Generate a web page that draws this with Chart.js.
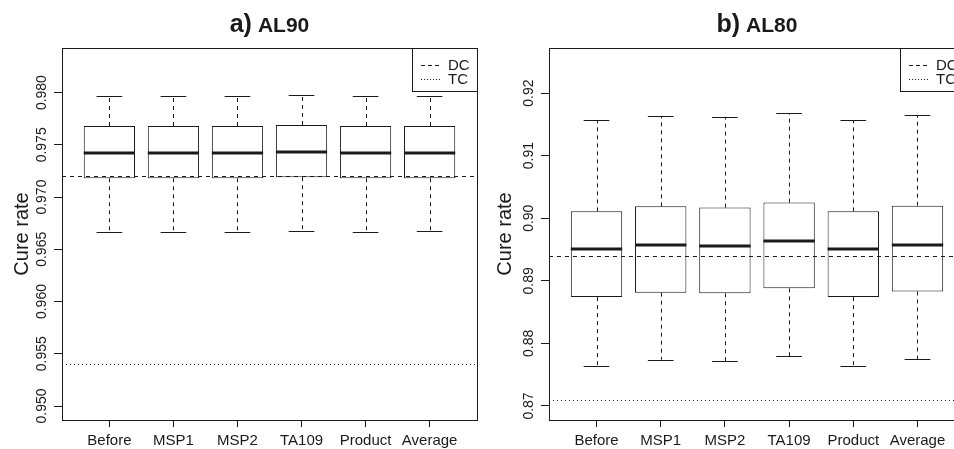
<!DOCTYPE html>
<html>
<head>
<meta charset="utf-8">
<title>Cure rate</title>
<script src="https://cdn.jsdelivr.net/npm/chart.js@4.4.0/dist/chart.umd.min.js"></script>
<style>
  body { margin: 0; background: #fff; overflow: hidden; width: 954px; height: 449px; position: relative; }
  .panel { position: absolute; top: 0; }
  #panelA { left: 0; }
  #panelB { left: 480px; }
</style>
</head>
<body>
<div class="panel" id="panelA"><canvas id="chartA" width="480" height="449"></canvas></div>
<div class="panel" id="panelB"><canvas id="chartB" width="500" height="449"></canvas></div>
<script>
'use strict'

const categories = ['Before', 'MSP1', 'MSP2', 'TA109', 'Product', 'Average'];

// AL90: whisker ends, quartiles and medians
const al90Low  = [0.9667, 0.9667, 0.9667, 0.9668, 0.9667, 0.9668];
const al90Q1   = [0.9718, 0.9718, 0.9718, 0.9719, 0.9718, 0.9718];
const al90Med  = [0.9742, 0.9742, 0.9742, 0.9743, 0.9742, 0.9742];
const al90Q3   = [0.9768, 0.9768, 0.9768, 0.9769, 0.9768, 0.9768];
const al90High = [0.9797, 0.9797, 0.9797, 0.9798, 0.9797, 0.9797];
const al90Ref  = [0.972, 0.954];   // DC, TC
const al90Ticks = [0.950, 0.955, 0.960, 0.965, 0.970, 0.975, 0.980];

// AL80
const al80Low  = [0.8764, 0.8774, 0.8772, 0.8780, 0.8764, 0.8775];
const al80Q1   = [0.8874, 0.8881, 0.8880, 0.8888, 0.8874, 0.8883];
const al80Med  = [0.8951, 0.8957, 0.8956, 0.8963, 0.8951, 0.8958];
const al80Q3   = [0.9011, 0.9019, 0.9017, 0.9025, 0.9011, 0.9020];
const al80High = [0.9157, 0.9163, 0.9162, 0.9168, 0.9157, 0.9165];
const al80Ref  = [0.894, 0.871];
const al80Ticks = [0.87, 0.88, 0.89, 0.90, 0.91, 0.92];

const refNames = ['DC', 'TC'];

const ink = '#1a1a1a';
const fontFamily = '"Liberation Sans", Arial, Helvetica, sans-serif';

function crisp(v) {
  return Math.round(v) + 0.5;
}

function hline(ctx, x1, x2, y) {
  ctx.beginPath();
  ctx.moveTo(x1, crisp(y));
  ctx.lineTo(x2, crisp(y));
  ctx.stroke();
}

function vline(ctx, x, y1, y2) {
  ctx.beginPath();
  ctx.moveTo(crisp(x), y1);
  ctx.lineTo(crisp(x), y2);
  ctx.stroke();
}

function makeChart(canvasId, s) {
  // whiskers, medians and the DC / TC lines
  const boxParts = {
    id: 'boxParts',
    afterDatasetsDraw(chart) {
      const ctx = chart.ctx;
      const x = chart.scales.x, y = chart.scales.y;
      const area = chart.chartArea;
      ctx.save();
      ctx.beginPath();
      ctx.rect(area.left, area.top, area.width, area.height);
      ctx.clip();
      ctx.strokeStyle = ink;
      for (let i = 0; i < s.med.length; i++) {
        const cx = x.getPixelForValue(i + 1);
        const capL = x.getPixelForValue(i + 0.8), capR = x.getPixelForValue(i + 1.2);
        const boxL = x.getPixelForValue(i + 0.6), boxR = x.getPixelForValue(i + 1.4);
        const pLow = y.getPixelForValue(s.low[i]);
        const pQ1 = y.getPixelForValue(s.q1[i]);
        const pMed = y.getPixelForValue(s.med[i]);
        const pQ3 = y.getPixelForValue(s.q3[i]);
        const pHigh = y.getPixelForValue(s.high[i]);

        ctx.lineWidth = 1;
        ctx.setLineDash([4, 4]);
        vline(ctx, cx, pQ3, pHigh);
        vline(ctx, cx, pQ1, pLow);
        ctx.setLineDash([]);
        hline(ctx, capL, capR, pHigh);
        hline(ctx, capL, capR, pLow);

        ctx.lineWidth = 3;
        ctx.beginPath();
        ctx.moveTo(boxL, Math.round(pMed));
        ctx.lineTo(boxR, Math.round(pMed));
        ctx.stroke();
      }
      ctx.lineWidth = 1;
      ctx.setLineDash([4, 4]);
      hline(ctx, area.left, area.right, y.getPixelForValue(s.ref[0]));
      ctx.setLineDash([1, 3]);
      hline(ctx, area.left, area.right, y.getPixelForValue(s.ref[1]));
      ctx.restore();
    }
  };

  // frame, rotated y labels, panel title and the small legend
  const decorations = {
    id: 'decorations',
    afterDraw(chart) {
      const ctx = chart.ctx;
      const y = chart.scales.y;
      const area = chart.chartArea;
      const l = Math.round(area.left), t = Math.round(area.top);
      const r = Math.round(area.right), b = Math.round(area.bottom);
      ctx.save();
      ctx.strokeStyle = ink;
      ctx.lineWidth = 1;
      ctx.setLineDash([]);
      ctx.strokeRect(l + 0.5, t + 0.5, r - l, b - t);

      ctx.fillStyle = ink;
      ctx.font = '14px ' + fontFamily;
      ctx.textAlign = 'center';
      ctx.textBaseline = 'alphabetic';
      s.ticks.forEach(v => {
        ctx.save();
        ctx.translate(l - 16, y.getPixelForValue(v));
        ctx.rotate(-Math.PI / 2);
        ctx.fillText(v.toFixed(s.digits), 0, 0);
        ctx.restore();
      });

      // title: big "a)" then smaller panel name
      const mid = (l + r) / 2;
      ctx.font = 'bold 25px ' + fontFamily;
      const w1 = ctx.measureText(s.title[0]).width;
      ctx.font = 'bold 21px ' + fontFamily;
      const w2 = ctx.measureText(s.title[1]).width;
      const gap = 6;
      const start = mid - (w1 + gap + w2) / 2;
      ctx.textAlign = 'left';
      ctx.font = 'bold 25px ' + fontFamily;
      ctx.fillText(s.title[0], start, 32);
      ctx.font = 'bold 21px ' + fontFamily;
      ctx.fillText(s.title[1], start + w1 + gap, 32);

      // legend box in the top right corner
      const lx = r - 65, ly = t, lh = 43;
      ctx.fillStyle = '#fff';
      ctx.fillRect(lx, ly, 65, lh);
      ctx.strokeRect(lx + 0.5, ly + 0.5, 65, lh);
      ctx.fillStyle = ink;
      ctx.font = '15px ' + fontFamily;
      const dashes = [[4, 3], [1, 2]];
      refNames.forEach((name, k) => {
        const rowY = ly + 17 + k * 14;
        ctx.setLineDash(dashes[k]);
        hline(ctx, lx + 9, lx + 28, rowY);
        ctx.setLineDash([]);
        ctx.fillText(name, lx + 36, rowY + 5);
      });
      ctx.restore();
    }
  };

  const boxes = s.q1.map((q, i) => ({ x: i + 1, y: [q, s.q3[i]] }));

  return new Chart(document.getElementById(canvasId), {
    type: 'bar',
    data: {
      datasets: [{
        data: boxes,
        backgroundColor: '#fff',
        borderColor: ink,
        borderWidth: 1,
        borderSkipped: false,
        barPercentage: 1,
        categoryPercentage: 0.8
      }]
    },
    options: {
      responsive: false,
      animation: false,
      events: [],
      layout: { padding: { top: 48, right: s.padRight, left: 0, bottom: 0 } },
      plugins: { legend: { display: false }, tooltip: { enabled: false } },
      scales: {
        x: {
          type: 'linear',
          offset: false,
          min: 0.26,
          max: 6.74,
          afterBuildTicks: scale => { scale.ticks = categories.map((c, i) => ({ value: i + 1 })); },
          afterFit: scale => { scale.height = 29; },
          border: { display: false },
          grid: { offset: false, drawOnChartArea: false, drawTicks: true, tickLength: 7, color: ink },
          ticks: {
            autoSkip: false,
            maxRotation: 0,
            padding: 5,
            color: ink,
            font: { family: fontFamily, size: 15 },
            callback: v => categories[v - 1]
          }
        },
        y: {
          type: 'linear',
          min: s.yMin,
          max: s.yMax,
          afterBuildTicks: scale => { scale.ticks = s.ticks.map(v => ({ value: v })); },
          afterFit: scale => { scale.width = s.axisWidth; },
          border: { display: false },
          grid: { drawOnChartArea: false, drawTicks: true, tickLength: 8, color: ink },
          ticks: { display: false },
          title: {
            display: true,
            text: 'Cure rate',
            color: ink,
            font: { family: fontFamily, size: 20 },
            padding: { top: s.titlePad, bottom: 0 }
          }
        }
      }
    },
    plugins: [boxParts, decorations]
  });
}

makeChart('chartA', {
  low: al90Low, q1: al90Q1, med: al90Med, q3: al90Q3, high: al90High,
  ref: al90Ref, ticks: al90Ticks, digits: 3, title: ['a)', 'AL90'],
  yMin: 0.94866, yMax: 0.98427, axisWidth: 62, padRight: 3, titlePad: 10
});

makeChart('chartB', {
  low: al80Low, q1: al80Q1, med: al80Med, q3: al80Q3, high: al80High,
  ref: al80Ref, ticks: al80Ticks, digits: 2, title: ['b)', 'AL80'],
  yMin: 0.86776, yMax: 0.9272, axisWidth: 69, padRight: 15, titlePad: 13
});
</script>
</body>
</html>
